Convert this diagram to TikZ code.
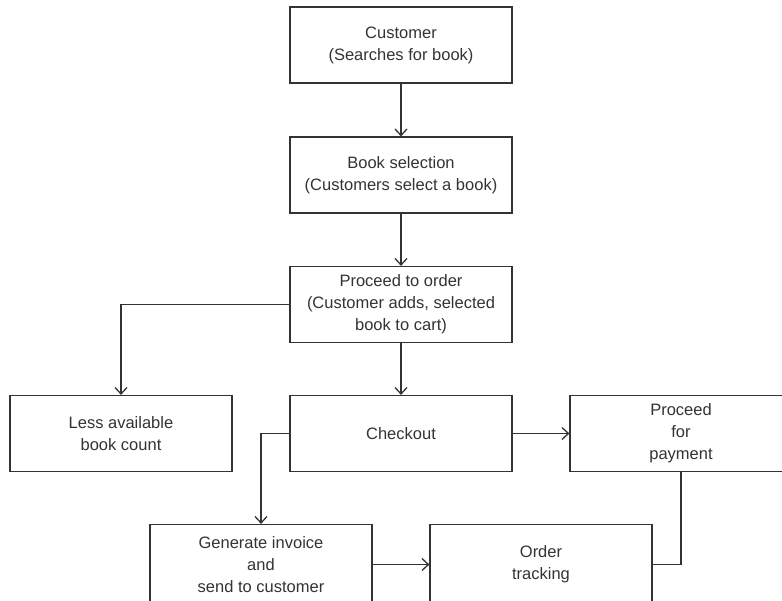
\documentclass[tikz,border=0pt]{standalone}
\usepackage{fontspec}
\setmainfont{Liberation Sans}
\usetikzlibrary{arrows.meta}
\definecolor{ink}{HTML}{333333}
\begin{document}
\begin{tikzpicture}[x=1pt,y=-1pt,
  box/.style={draw=ink,line width=1.2pt,minimum width=222pt,minimum height=76pt,
    align=center,inner sep=2pt,text=ink,font=\fontsize{16.5}{22}\selectfont},
  lowbox/.style={box,minimum height=80pt},
  conn/.style={draw=ink,line width=1.2pt},
  arr/.style={conn,-{Straight Barb[length=6.5pt,width=12pt,line width=1.3pt]}}]
\useasboundingbox (0,0) rectangle (782,600);
\clip (0,0) rectangle (782,600);
\node[box] (cust) at (401,45) {Customer\\(Searches for book)};
\node[box] (sel) at (401,175) {Book selection\\(Customers select a book)};
\node[box] (ord) at (401,304.5) {Proceed to order\\(Customer adds, selected\\book to cart)};
\node[box] (less) at (121,433.5) {Less available\\book count};
\node[box] (chk) at (401,433.5) {Checkout};
\node[box] (pay) at (681,433.5) {Proceed\\for\\payment};
\node[lowbox] (inv) at (261,564.5) {Generate invoice\\and\\send to customer};
\node[lowbox] (trk) at (541,564.5) {Order\\tracking};
\draw[arr] (cust.south) -- (sel.north);
\draw[arr] (sel.south) -- (ord.north);
\draw[arr] (ord.west) -| (less.north);
\draw[arr] (ord.south) -- (chk.north);
\draw[arr] (chk.west) -| (inv.north);
\draw[arr] (chk.east) -- (pay.west);
\draw[arr] (inv.east) -- (trk.west);
\draw[conn] (pay.south) |- (trk.east);
\end{tikzpicture}
\end{document}
